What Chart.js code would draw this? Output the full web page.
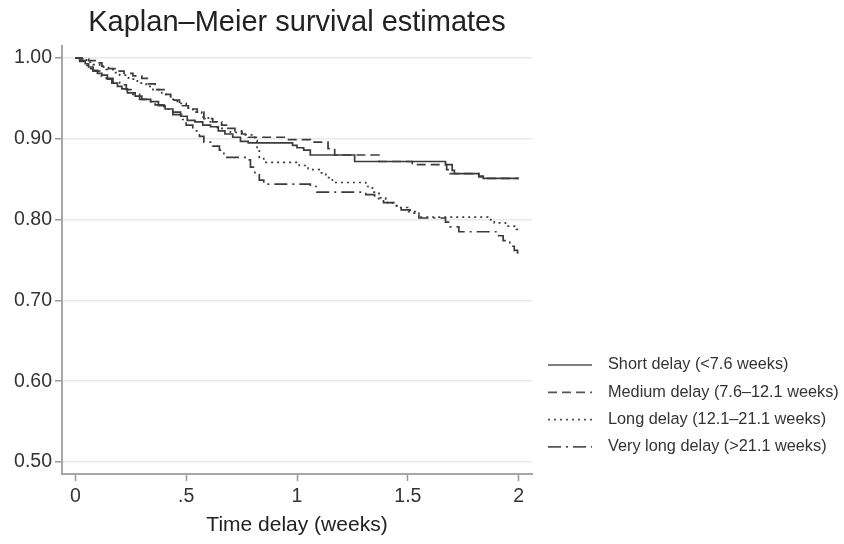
<!DOCTYPE html>
<html>
<head>
<meta charset="utf-8">
<script src="https://cdn.jsdelivr.net/npm/chart.js@4.4.1/dist/chart.umd.min.js"></script>
<style>
  body { margin: 0; background: #fff; }
  #wrap { width: 844px; height: 544px; }
</style>
</head>
<body>
<div id="wrap"><canvas id="kmChart"></canvas></div>
<script>
// --- DATA ---
const seriesNames = ['Short delay (<7.6 weeks)', 'Medium delay (7.6\u201312.1 weeks)', 'Long delay (12.1\u201321.1 weeks)', 'Very long delay (>21.1 weeks)'];

const timeShort = [0, .02, .045, .06, .08, .10, .12, .145, .165, .19, .21, .235, .27, .30, .34, .375, .405, .44, .475, .505, .54, .575, .61, .645, .675, .71, .745, .78, .98, 1.0, 1.03, 1.06, 1.26, 1.67, 1.70, 1.71, 1.82, 1.84, 2.0];
const survShort = [1, .997, .993, .989, .985, .981, .979, .974, .969, .965, .962, .957, .953, .949, .946, .941, .937, .933, .928, .923, .921, .917, .915, .910, .906, .902, .897, .895, .892, .889, .886, .880, .872, .868, .861, .857, .854, .851, .851];

const timeMedium = [0, .03, .06, .09, .12, .15, .19, .22, .26, .30, .33, .36, .40, .43, .47, .51, .55, .58, .62, .66, .69, .72, .75, .78, .95, 1.06, 1.14, 1.17, 1.37, 1.52, 1.675, 1.69, 1.82, 1.84, 2.0];
const survMedium = [1, .999, .997, .994, .990, .987, .984, .981, .978, .975, .968, .961, .955, .948, .941, .937, .933, .925, .921, .917, .913, .910, .906, .902, .899, .896, .888, .880, .872, .868, .862, .857, .853, .851, .851];

const timeLong = [0, .03, .05, .08, .11, .14, .17, .20, .24, .28, .32, .35, .39, .43, .46, .50, .53, .57, .60, .64, .70, .76, .81, .82, .83, .85, 1.01, 1.05, 1.10, 1.13, 1.16, 1.31, 1.34, 1.37, 1.40, 1.45, 1.50, 1.55, 1.86, 1.89, 1.94, 1.99, 2.0];
const survLong = [1, .998, .995, .992, .989, .986, .982, .979, .974, .969, .965, .961, .955, .949, .944, .938, .933, .927, .921, .913, .908, .905, .898, .888, .877, .871, .867, .862, .858, .852, .846, .841, .834, .827, .821, .815, .810, .803, .800, .796, .792, .788, .788];

const timeVeryLong = [0, .02, .04, .06, .08, .11, .14, .17, .20, .23, .26, .29, .33, .36, .40, .44, .48, .50, .53, .56, .58, .62, .65, .67, .78, .79, .81, .83, .85, 1.06, 1.09, 1.31, 1.35, 1.39, 1.43, 1.47, 1.51, 1.55, 1.67, 1.69, 1.73, 1.91, 1.93, 1.96, 1.98, 1.995, 2.0];
const survVeryLong = [1, .996, .991, .987, .984, .978, .975, .970, .967, .961, .955, .949, .946, .942, .937, .930, .924, .917, .910, .903, .896, .891, .886, .877, .874, .865, .857, .849, .844, .841, .834, .831, .826, .821, .817, .812, .808, .802, .797, .791, .785, .780, .774, .767, .762, .757, .757];

const yTicks = [0.5, 0.6, 0.7, 0.8, 0.9, 1.0];
const xTicks = [0, 0.5, 1, 1.5, 2];
const xTickLabels = ['0', '.5', '1', '1.5', '2'];

// --- BUILD CHART ---
const FONT = 'Liberation Sans, Arial, Helvetica, sans-serif';
const lineColor = '#3c3c3c';
const dashes = [[], [9, 5], [2, 4], [13, 5, 2, 5]];

const toPoints = (xs, ys) => xs.map((x, i) => ({ x: x, y: ys[i] }));
const allSeries = [
  toPoints(timeShort, survShort),
  toPoints(timeMedium, survMedium),
  toPoints(timeLong, survLong),
  toPoints(timeVeryLong, survVeryLong)
];

const datasets = allSeries.map((pts, i) => ({
  label: seriesNames[i],
  data: pts,
  stepped: 'before',
  borderColor: lineColor,
  borderWidth: 1.7,
  borderDash: dashes[i],
  pointRadius: 0,
  fill: false
}));

// title + legend drawn by hand so they sit where the reference has them
const decorations = {
  id: 'decorations',
  afterDraw(chart) {
    const ctx = chart.ctx;
    ctx.save();
    ctx.fillStyle = '#222';
    ctx.font = '29px ' + FONT;
    ctx.textAlign = 'center';
    ctx.textBaseline = 'middle';
    ctx.fillText('Kaplan\u2013Meier survival estimates', (chart.chartArea.left + chart.chartArea.right) / 2, 23);

    ctx.font = '16.3px ' + FONT;
    ctx.textAlign = 'left';
    chart.data.datasets.forEach((ds, i) => {
      const y = 365 + i * 27.3;
      ctx.strokeStyle = '#555';
      ctx.lineWidth = 1.7;
      ctx.setLineDash(ds.borderDash);
      ctx.beginPath();
      ctx.moveTo(548, y);
      ctx.lineTo(592, y);
      ctx.stroke();
      ctx.setLineDash([]);
      ctx.fillStyle = '#333';
      ctx.fillText(ds.label, 608, y);
    });
    ctx.restore();
  }
};

new Chart(document.getElementById('kmChart'), {
  type: 'line',
  data: { datasets: datasets },
  options: {
    responsive: true,
    maintainAspectRatio: false,
    animation: false,
    layout: { padding: { top: 46, right: 312, left: 0, bottom: 0 } },
    plugins: { legend: { display: false }, tooltip: { enabled: false } },
    scales: {
      x: {
        type: 'linear',
        min: -0.06,
        max: 2.06,
        afterBuildTicks: (scale) => { scale.ticks = xTicks.map(v => ({ value: v })); },
        afterFit: (scale) => { scale.height = 70; },
        ticks: {
          callback: (v) => xTickLabels[xTicks.indexOf(v)],
          font: { family: FONT, size: 19.5 },
          color: '#333',
          padding: 4,
          maxRotation: 0
        },
        grid: { drawOnChartArea: false, drawTicks: true, tickLength: 7, tickColor: '#999', tickWidth: 1.5 },
        border: { display: true, color: '#a6a6a6', width: 2 },
        title: {
          display: true,
          text: 'Time delay (weeks)',
          font: { family: FONT, size: 21 },
          color: '#222',
          padding: { top: 0, bottom: 6 }
        }
      },
      y: {
        min: 0.485,
        max: 1.015,
        afterBuildTicks: (scale) => { scale.ticks = yTicks.map(v => ({ value: v })); },
        afterFit: (scale) => { scale.width = 62; },
        ticks: {
          callback: (v) => v.toFixed(2),
          font: { family: FONT, size: 19.5 },
          color: '#333',
          padding: 3
        },
        grid: { color: '#e9e9e9', lineWidth: 1.5, drawTicks: true, tickLength: 7, tickColor: '#999', tickWidth: 1.5 },
        border: { display: true, color: '#a6a6a6', width: 2 }
      }
    }
  },
  plugins: [decorations]
});
</script>
</body>
</html>
